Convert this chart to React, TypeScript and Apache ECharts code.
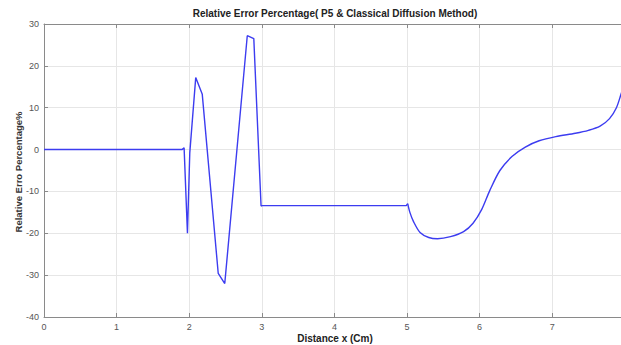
import React, { useEffect, useRef } from "react";
import * as echarts from "echarts";

const titleText = "Relative Error Percentage( P5 & Classical Diffusion Method)";
const xName = "Distance x (Cm)";
const yName = "Relative Erro Percentage%";

// sharp part (x from 0 to 5)
const xSharp = [
  0, 1.9, 1.93, 1.976, 2.008, 2.09, 2.18, 2.4, 2.49, 2.8, 2.89, 2.99, 3.0,
  4.99, 5.01,
];
const ySharp = [
  0, 0, 0.4, -20.0, -0.8, 17.2, 13.2, -29.6, -32.0, 27.2, 26.5, -13.5, -13.4,
  -13.4, -12.9,
];
// smooth part (x from 5 to the end)
const xSmooth = [
  5.01, 5.04, 5.09, 5.18, 5.3, 5.42, 5.6, 5.78, 5.91, 6.03, 6.14, 6.28, 6.45,
  6.63, 6.82, 7.05, 7.32, 7.5, 7.66, 7.79, 7.885, 7.948, 8.0,
];
const ySmooth = [
  -12.9, -15.0, -17.2, -19.8, -21.0, -21.3, -20.8, -19.6, -17.6, -14.3, -9.8,
  -5.0, -1.6, 0.6, 2.1, 3.1, 3.9, 4.6, 5.6, 7.4, 10.0, 13.2, 16.0,
];

const xTicks = { min: 0, max: 7.948, interval: 1 };
const yTicks = { min: -40, max: 30, interval: 10 };

export default function App() {
  const ref = useRef<HTMLDivElement>(null);
  useEffect(() => {
    if (!ref.current) return;
    const chart = echarts.init(ref.current, null, { renderer: "svg" });
    const sharp = xSharp.map((x, i) => [x, ySharp[i]]);
    const smooth = xSmooth.map((x, i) => [x, ySmooth[i]]);
    const font = "Liberation Sans, Arial, sans-serif";
    const axisColor = "#8a8a8a";
    const intLabel = (v: number) =>
      Math.abs(v - Math.round(v)) < 1e-6 ? String(Math.round(v)) : "";
    chart.setOption({
      animation: false,
      backgroundColor: "#ffffff",
      grid: { left: 44, right: 0, top: 24, bottom: 28, show: false },
      graphic: [
        {
          type: "text",
          x: 335,
          y: 13,
          style: {
            text: titleText,
            fontFamily: font,
            fontWeight: "bold",
            fontSize: 10,
            fill: "#222",
            align: "center",
            verticalAlign: "middle",
          },
        },
        {
          type: "text",
          x: 335,
          y: 338,
          style: {
            text: xName,
            fontFamily: font,
            fontWeight: "bold",
            fontSize: 10,
            fill: "#222",
            align: "center",
            verticalAlign: "middle",
          },
        },
        {
          type: "text",
          x: 18,
          y: 172,
          rotation: Math.PI / 2,
          style: {
            text: yName,
            fontFamily: font,
            fontWeight: "bold",
            fontSize: 9.5,
            fill: "#333",
            align: "center",
            verticalAlign: "middle",
          },
        },
      ],
      xAxis: [
        {
          type: "value",
          ...xTicks,
          position: "bottom",
          axisLine: { show: true, onZero: false, lineStyle: { color: axisColor } },
          axisTick: { show: true, inside: true, length: 4, lineStyle: { color: axisColor } },
          axisLabel: {
            color: "#555",
            fontSize: 9,
            fontFamily: font,
            margin: 5,
            formatter: intLabel,
            showMaxLabel: false,
          },
          splitLine: { show: true, lineStyle: { color: "#e6e6e6", width: 1 } },
        },
        {
          type: "value",
          ...xTicks,
          position: "top",
          axisLine: { show: true, onZero: false, lineStyle: { color: axisColor } },
          axisTick: { show: true, inside: true, length: 4, lineStyle: { color: axisColor } },
          axisLabel: { show: false },
          splitLine: { show: false },
        },
      ],
      yAxis: {
        type: "value",
        ...yTicks,
        axisLine: { show: true, onZero: false, lineStyle: { color: axisColor } },
        axisTick: { show: true, inside: true, length: 4, lineStyle: { color: axisColor } },
        axisLabel: { color: "#555", fontSize: 9, fontFamily: font, margin: 5 },
        splitLine: { show: true, lineStyle: { color: "#e6e6e6", width: 1 } },
      },
      series: [
        {
          type: "line",
          data: sharp,
          xAxisIndex: 0,
          showSymbol: false,
          symbol: "none",
          clip: true,
          lineStyle: { color: "#3c3cf0", width: 1.4 },
        },
        {
          type: "line",
          data: smooth,
          xAxisIndex: 0,
          showSymbol: false,
          symbol: "none",
          clip: true,
          smooth: 0.3,
          lineStyle: { color: "#3c3cf0", width: 1.4 },
        },
      ],
    });
    return () => chart.dispose();
  }, []);
  return (
    <div
      ref={ref}
      style={{ position: "fixed", left: 0, top: 0, width: 621, height: 345 }}
    />
  );
}
